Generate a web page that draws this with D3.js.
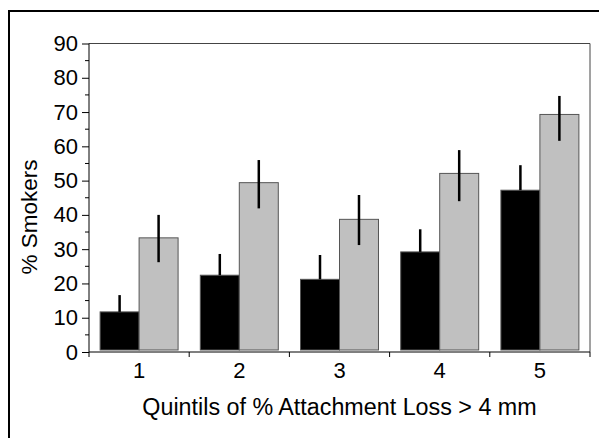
<!DOCTYPE html>
<html lang="en">
<head>
<meta http-equiv="content-type" content="text/html; charset=UTF-8">
<script src="https://d3js.org/d3.v7.min.js"></script>
<style>
  html, body { margin: 0; padding: 0; background: #fff; }
  svg { display: block; font-family: "Liberation Sans", Arial, sans-serif; }
</style>
</head>
<body>
<div id="plot"></div>
<script>
// quintile categories and bar values (% smokers)
const categories = ["1", "2", "3", "4", "5"];
const blackValues = [11.7, 22.4, 21.2, 29.2, 47.2];
const blackHi = [16.6, 28.6, 28.3, 35.8, 54.5];
const grayValues = [33.3, 49.4, 38.7, 52.1, 69.3];
const grayHi = [40.0, 56.0, 45.8, 58.9, 74.7];
const grayLo = [26.2, 41.9, 31.2, 44.0, 61.6];
const yTicks = [0, 10, 20, 30, 40, 50, 60, 70, 80, 90];
const yMinorTicks = [5, 15, 25, 35, 45, 55, 65, 75, 85];

function chart() {
  const width = 599, height = 438;
  const left = 89, right = 590, top = 43.5, bottom = 352;

  const svg = d3.select('#plot').append('svg')
      .attr('width', width)
      .attr('height', height);

  // outer frame (runs off the right and bottom edge)
  svg.append('rect')
      .attr('x', 9).attr('y', 11)
      .attr('width', 620).attr('height', 460)
      .attr('fill', 'none')
      .attr('stroke', '#000')
      .attr('stroke-width', 2);

  const x = d3.scaleBand()
      .domain(categories)
      .range([left, right])
      .padding(0);

  const sub = d3.scaleBand()
      .domain(['black', 'gray'])
      .range([0, x.bandwidth()])
      .paddingInner(0)
      .paddingOuter(0.285);

  const y = d3.scaleLinear()
      .domain([0, 90])
      .range([bottom, top]);

  const data = categories.map((c, i) => ({
    cat: c,
    black: blackValues[i], blackHi: blackHi[i],
    gray: grayValues[i], grayHi: grayHi[i], grayLo: grayLo[i]
  }));

  // plot box top/right
  svg.append('path')
      .attr('d', `M${left},${top}H${right}V${bottom}`)
      .attr('fill', 'none')
      .attr('stroke', '#444')
      .attr('stroke-width', 1);

  const g = svg.append('g');

  // bars
  g.selectAll('rect.black')
    .data(data)
    .join('rect')
      .attr('class', 'black')
      .attr('x', d => x(d.cat) + sub('black'))
      .attr('y', d => y(d.black))
      .attr('width', sub.bandwidth())
      .attr('height', d => y(0) - y(d.black) - 2)
      .attr('fill', '#000')
      .attr('stroke', '#555')
      .attr('stroke-width', 1);

  g.selectAll('rect.gray')
    .data(data)
    .join('rect')
      .attr('class', 'gray')
      .attr('x', d => x(d.cat) + sub('gray'))
      .attr('y', d => y(d.gray))
      .attr('width', sub.bandwidth())
      .attr('height', d => y(0) - y(d.gray) - 2)
      .attr('fill', '#c0c0c0')
      .attr('stroke', '#555')
      .attr('stroke-width', 1);

  // error bars
  g.selectAll('line.eb-black')
    .data(data)
    .join('line')
      .attr('class', 'eb-black')
      .attr('x1', d => x(d.cat) + sub('black') + sub.bandwidth() / 2)
      .attr('x2', d => x(d.cat) + sub('black') + sub.bandwidth() / 2)
      .attr('y1', d => y(d.black))
      .attr('y2', d => y(d.blackHi))
      .attr('stroke', '#000')
      .attr('stroke-width', 2.5);

  g.selectAll('line.eb-gray')
    .data(data)
    .join('line')
      .attr('class', 'eb-gray')
      .attr('x1', d => x(d.cat) + sub('gray') + sub.bandwidth() / 2)
      .attr('x2', d => x(d.cat) + sub('gray') + sub.bandwidth() / 2)
      .attr('y1', d => y(d.grayLo))
      .attr('y2', d => y(d.grayHi))
      .attr('stroke', '#000')
      .attr('stroke-width', 2.5);

  // y axis
  const yAxis = svg.append('g')
      .attr('transform', `translate(${left},0)`)
      .call(d3.axisLeft(y).tickValues(yTicks).tickSize(7).tickPadding(4))
      .call(g => g.select('.domain').attr('d', `M0,${bottom}V${top}`).attr('stroke', '#000'));
  yAxis.selectAll('.tick text')
      .attr('font-size', 22)
      .attr('font-family', '"Liberation Sans", Arial, sans-serif')
      .attr('fill', '#000');
  yAxis.selectAll('.minor')
    .data(yMinorTicks)
    .join('line')
      .attr('class', 'minor')
      .attr('x1', -4).attr('x2', 0)
      .attr('y1', d => y(d)).attr('y2', d => y(d))
      .attr('stroke', '#000');

  // x axis: ticks at category boundaries
  const xAxis = svg.append('g')
      .attr('transform', `translate(0,${bottom})`);
  xAxis.append('line')
      .attr('x1', left).attr('x2', right)
      .attr('stroke', '#000');
  xAxis.selectAll('.bound')
    .data(categories.concat(['end']))
    .join('line')
      .attr('class', 'bound')
      .attr('x1', d => d === 'end' ? right : x(d))
      .attr('x2', d => d === 'end' ? right : x(d))
      .attr('y1', 0).attr('y2', 5)
      .attr('stroke', '#000');
  xAxis.selectAll('.lbl')
    .data(categories)
    .join('text')
      .attr('class', 'lbl')
      .attr('x', d => x(d) + x.bandwidth() / 2)
      .attr('y', 26)
      .attr('text-anchor', 'middle')
      .attr('font-size', 22)
      .attr('fill', '#000')
      .text(d => d);

  // axis titles
  svg.append('text')
      .attr('x', 339.5)
      .attr('y', 415)
      .attr('text-anchor', 'middle')
      .attr('font-size', 23.3)
      .attr('fill', '#000')
      .text('Quintils of % Attachment Loss > 4 mm');

  svg.append('text')
      .attr('transform', 'translate(37,217) rotate(-90)')
      .attr('text-anchor', 'middle')
      .attr('font-size', 22.5)
      .attr('fill', '#000')
      .text('% Smokers');
}

window.onload = chart;
</script>
</body>
</html>
